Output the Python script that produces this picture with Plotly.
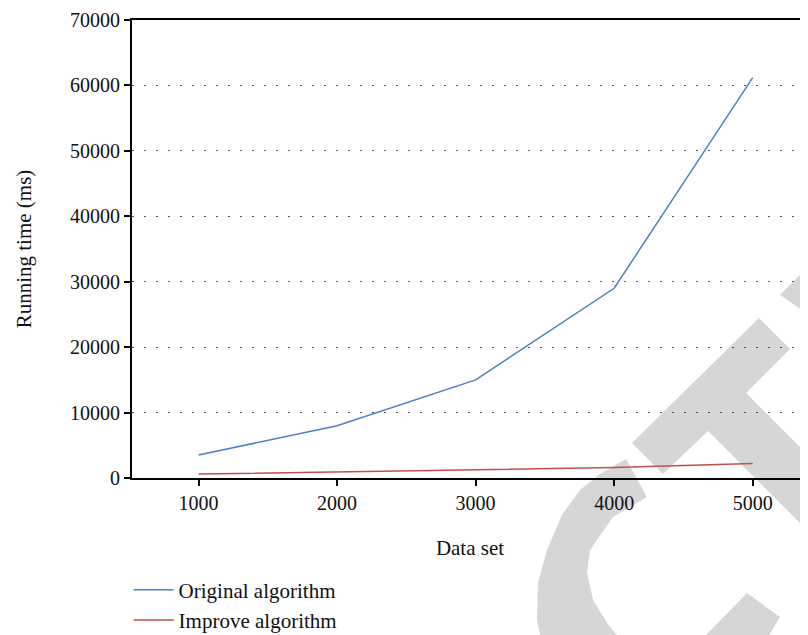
import plotly.graph_objects as go

# ---- data ----
data_sizes = [1000, 2000, 3000, 4000, 5000]
original_ms = [3500, 8000, 15000, 29000, 61200]
improve_ms = [600, 900, 1200, 1600, 2200]
series_names = ["Original algorithm", "Improve algorithm"]
y_ticks = [0, 10000, 20000, 30000, 40000, 50000, 60000, 70000]
x_ticks = [1000, 2000, 3000, 4000, 5000]

# page has an 8px body margin, so the figure is sized to fit inside 808x635
OFF = 8
W, H = 800, 627
ML, MR, MT, MB = 124, 0, 12, 157
FONT = "Liberation Serif"
FS = 21

fig = go.Figure()
fig.add_trace(go.Scatter(x=data_sizes, y=original_ms, mode="lines", name=series_names[0],
                         line=dict(color="#4f80c4", width=1.5), legendgroup="a"))
fig.add_trace(go.Scatter(x=data_sizes, y=improve_ms, mode="lines", name=series_names[1],
                         line=dict(color="#c0504d", width=1.5), legendgroup="b"))

# decorative watermark (page pixel coords -> paper coords)
pw, ph = W - ML - MR, H - MT - MB
def P(px, py):
    return (px - OFF - ML) / pw, (H - MB - (py - OFF)) / ph

def path(points):
    s = ""
    for i, (px, py) in enumerate(points):
        x, y = P(px, py)
        s += ("M" if i == 0 else "L") + f"{x:.4f},{y:.4f} "
    return s + "Z"

wm_T = [(632, 443), (759, 318), (790, 349), (746, 393), (900, 547), (900, 623), (708, 431), (663, 474)]
wm_E = [(780, 295), (830, 245), (860, 350)]
wm_C = [(626, 459), (600, 474), (580, 490), (562, 515), (547, 550), (538, 583), (537, 620), (545, 660),
        (600, 700), (700, 700), (760, 650), (780, 617), (747, 593), (705, 636), (660, 652), (625, 645),
        (607, 623), (593, 600), (587, 573), (590, 550), (613, 517), (647, 497)]
for pts in (wm_T, wm_E, wm_C):
    fig.add_shape(type="path", path=path(pts), xref="paper", yref="paper",
                  fillcolor="#d6d6d6", line=dict(width=0), layer="below")

fig.update_layout(
    width=W, height=H,
    margin=dict(l=ML, r=MR, t=MT, b=MB, autoexpand=False),
    paper_bgcolor="white", plot_bgcolor="rgba(0,0,0,0)",
    font=dict(family=FONT, size=FS, color="#111"),
    showlegend=True,
    legend=dict(x=-0.005, y=-0.200, xanchor="left", yanchor="top", orientation="v",
                tracegroupgap=0, itemwidth=40, font=dict(family=FONT, size=FS),
                bgcolor="rgba(0,0,0,0)"),
)
fig.update_xaxes(
    range=[520, 5399], tickvals=x_ticks, ticktext=[str(v) for v in x_ticks],
    showline=True, linecolor="black", linewidth=2, mirror=True,
    ticks="outside", ticklen=6, tickcolor="black", tickwidth=1.5,
    tickfont=dict(family=FONT, size=20),
    showgrid=False, zeroline=False, automargin=False,
    title=dict(text="Data set", standoff=27, font=dict(family=FONT, size=FS)),
)
fig.update_yaxes(
    range=[0, 70000], tickvals=y_ticks, ticktext=[str(v) for v in y_ticks],
    showline=True, linecolor="black", linewidth=2, mirror=False,
    ticks="outside", ticklen=6, tickcolor="black", tickwidth=1.5,
    tickfont=dict(family=FONT, size=20),
    ticklabeloverflow="allow", automargin=False,
    showgrid=True, gridcolor="#555", gridwidth=1, griddash="2px,10px",
    zeroline=False,
    title=dict(text="Running time (ms)", standoff=33, font=dict(family=FONT, size=FS)),
)

fig.write_html("out.html")
